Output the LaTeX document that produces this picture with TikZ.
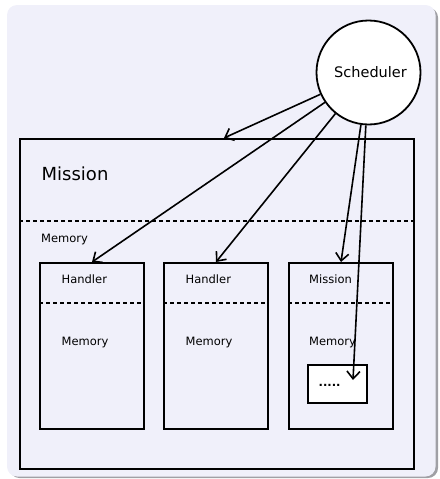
\documentclass[tikz,border=0pt]{standalone}
\usepackage{fontspec}
\setmainfont{DejaVu Sans}
\usetikzlibrary{arrows.meta}
\definecolor{panelfill}{RGB}{240,240,250}
\definecolor{panelshadow}{RGB}{160,160,165}
\begin{document}
\begin{tikzpicture}[x=1pt,y=-1pt,
  box/.style={draw=black, line width=1.8pt, inner sep=0pt, anchor=north west},
  sep/.style={draw=black, line width=1.8pt, dash pattern=on 4pt off 3pt},
  call/.style={draw=black, line width=1.6pt,
    -{Straight Barb[length=7.5pt,width=13pt,line width=1.6pt]}},
  lbl/.style={anchor=base west, inner sep=0pt, font=\fontsize{11.5}{13}\selectfont},
  title/.style={anchor=base west, inner sep=0pt, font=\fontsize{18}{20}\selectfont},
]
\useasboundingbox (0,0) rectangle (439,479);

% background panel with its shadow
\fill[panelshadow, rounded corners=10pt] (9.5,7.5) rectangle (438,478);
\fill[panelfill, rounded corners=10pt] (7,5) rectangle (435.5,476.5);

% outer mission with its memory area
\node[box, minimum width=394pt, minimum height=330pt] (mission) at (19,138) {};
\draw[sep] (mission.west |- 0,221) -- (mission.east |- 0,221);
\node[title] (missionlbl) at (41.5,180) {Mission};
\node[lbl] (missionmem) at (41,242) {Memory};

% handlers and nested mission
\node[box, minimum width=104pt, minimum height=166pt] (h1) at (39,262) {};
\node[box, minimum width=104pt, minimum height=166pt] (h2) at (163,262) {};
\node[box, minimum width=104pt, minimum height=166pt] (m2) at (288,262) {};
\draw[sep] (h1.west |- 0,303) -- (h1.east |- 0,303);
\draw[sep] (h2.west |- 0,303) -- (h2.east |- 0,303);
\draw[sep] (m2.west |- 0,303) -- (m2.east |- 0,303);

\node[lbl] (h1lbl) at (61.5,283) {Handler};
\node[lbl] (h1mem) at (61.5,345) {Memory};
\node[lbl] (h2lbl) at (185.5,283) {Handler};
\node[lbl] (h2mem) at (185.5,345) {Memory};
\node[lbl] (m2lbl) at (309,283) {Mission};
\node[lbl] (m2mem) at (309,345) {Memory};

\node[box, fill=white, minimum width=59pt, minimum height=38pt] (inner) at (307,364) {};
\node[lbl, font=\fontsize{11.5}{13}\selectfont\bfseries] (innerlbl) at (318.5,386) {.....};

% scheduler
\node[circle, draw=black, line width=1.8pt, fill=white, minimum size=104pt,
  inner sep=0pt, font=\fontsize{14.5}{16}\selectfont] (sched) at (368.5,72.5) {\hspace{4pt}Scheduler};

% targets of the scheduler
\coordinate (t1) at (224,138);
\coordinate (t2) at (92,262);
\coordinate (t3) at (216,262);
\coordinate (t4) at (341,262);
\coordinate (t5) at (353,380);

\draw[call] (sched) -- (t1);
\draw[call] (sched) -- (t2);
\draw[call] (sched) -- (t3);
\draw[call] (sched) -- (t4);
\draw[call] (sched) -- (t5);
\end{tikzpicture}
\end{document}
